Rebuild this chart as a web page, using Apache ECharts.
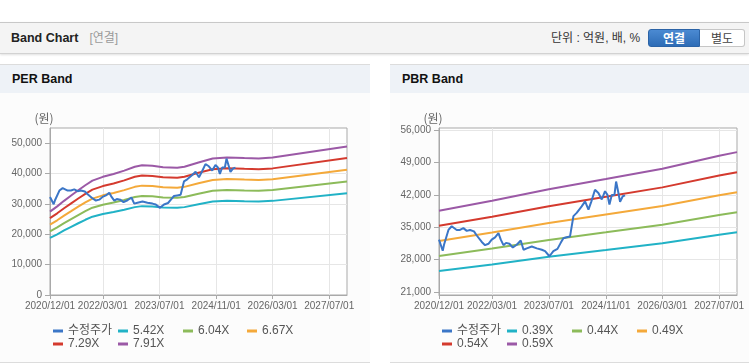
<!DOCTYPE html>
<html><head><meta charset="utf-8">
<script src="https://cdn.jsdelivr.net/npm/echarts@6/dist/echarts.min.js"></script>
<style>
html,body{margin:0;padding:0;width:749px;height:364px;overflow:hidden;background:#fff;font-family:'Liberation Sans','Noto Sans CJK KR',sans-serif;}
.abs{position:absolute;}
#hdr{left:0;top:22px;width:749px;height:30px;background:#f4f4f4;border-top:1px solid #c8c8c8;border-bottom:1px solid #d2d2d2;box-shadow:0 1px 2px rgba(0,0,0,0.12);}
.panel{top:64px;height:297px;background:#fcfcfc;border-top:1px solid #dcdcdc;border-bottom:1px solid #dcdcdc;}
.ptitle{top:65px;height:28px;line-height:28px;background:#eef2f7;font-weight:bold;font-size:12.5px;color:#111;box-sizing:border-box;padding-left:12px;}
.btn{top:29px;height:18px;line-height:18px;font-size:12px;text-align:center;box-sizing:border-box;}
#chart{left:0;top:0;width:749px;height:364px;}
</style></head>
<body>
<div class="abs" id="hdr"></div>
<div class="abs" style="left:11px;top:23px;height:30px;line-height:30px;font-weight:bold;font-size:12.5px;color:#222;">Band Chart<span style="font-weight:normal;color:#9a9a9a;font-size:12px;margin-left:11px;">[연결]</span></div>
<div class="abs" style="left:551px;top:23px;height:30px;line-height:30px;font-size:12px;color:#333;">단위 : 억원, 배, %</div>
<div class="abs btn" style="left:648px;width:52px;background:linear-gradient(#4b8ad2,#2d6cb6);border:1px solid #2b63a6;border-radius:3px 0 0 3px;color:#fff;font-weight:bold;">연결</div>
<div class="abs btn" style="left:700px;width:45px;background:#fff;border:1px solid #c6c6c6;border-left:none;border-radius:0 3px 3px 0;color:#444;">별도</div>

<div class="abs panel" style="left:0;width:370px;"></div>
<div class="abs ptitle" style="left:0;width:370px;">PER Band</div>
<div class="abs panel" style="left:390px;width:359px;"></div>
<div class="abs ptitle" style="left:390px;width:359px;">PBR Band</div>

<div class="abs" id="chart"></div>
<script>
// ---------- data ----------
const priceName = '수정주가';
const perNames = ['5.42X', '6.04X', '6.67X', '7.29X', '7.91X'];
const pbrNames = ['0.39X', '0.44X', '0.49X', '0.54X', '0.59X'];

const xTickDates = ['2020-12-01', '2022-03-01', '2023-07-01', '2024-11-01', '2026-03-01', '2027-07-01'];
const xMin = '2020-12-01';
const xMax = '2027-12-01';
const perYTicks = [0, 10000, 20000, 30000, 40000, 50000];
const pbrYTicks = [21000, 28000, 35000, 42000, 49000, 56000];

const perDates = ['2020-12-01','2021-02-01','2021-04-01','2021-06-01','2021-08-01','2021-10-01','2021-12-01',
  '2022-03-01','2022-06-01','2022-09-01','2022-12-01','2023-02-01','2023-05-01','2023-08-01','2023-12-01',
  '2024-02-01','2024-06-01','2024-10-01','2025-02-01','2025-07-01','2025-11-01','2026-03-01','2027-12-01'];
const per542 = [18810,20000,21250,22440,23630,24770,25800,26670,27320,28080,28940,29270,29160,28830,28730,28940,29920,30790,31060,30890,30790,31000,33520];
const per604 = [20960,22290,23680,25010,26330,27600,28750,29720,30440,31290,32250,32620,32500,32130,32010,32250,33340,34310,34610,34430,34310,34550,37360];
const per667 = [23150,24610,26150,27610,29080,30480,31750,32820,33620,34550,35620,36020,35890,35480,35350,35620,36820,37890,38220,38020,37890,38150,41250];
const per729 = [25300,26900,28580,30180,31780,33320,34700,35870,36740,37760,38930,39370,39220,38780,38640,38930,40240,41410,41770,41550,41410,41700,45090];
const per791 = [27450,29190,31010,32750,34490,36150,37650,38920,39870,40970,42240,42710,42560,42080,41920,42240,43660,44930,45320,45090,44930,45250,48920];

const pbrDates = ['2020-12-01','2022-03-01','2023-07-01','2024-11-01','2026-03-01','2027-07-01','2027-12-01'];
const pbr039 = [25490,26920,28570,30030,31510,33380,33890];
const pbr044 = [28750,30370,32230,33880,35550,37660,38240];
const pbr049 = [32020,33830,35890,37730,39590,41930,42580];
const pbr054 = [35290,37280,39560,41580,43630,46210,46930];
const pbr059 = [38560,40730,43220,45430,47670,50490,51270];

const priceDates = ['2020-12-01','2021-01-02','2021-01-13','2021-02-20','2021-03-20','2021-04-04','2021-05-02','2021-05-30',
  '2021-06-28','2021-07-27','2021-08-24','2021-09-27','2021-10-21','2021-12-03','2021-12-31','2022-01-29','2022-02-26',
  '2022-03-27','2022-04-25','2022-05-15','2022-06-07','2022-06-29','2022-07-28','2022-08-26','2022-09-29','2022-11-02',
  '2022-11-26','2022-12-24','2023-02-05','2023-03-20','2023-05-02','2023-05-30','2023-07-06','2023-08-09','2023-09-13',
  '2023-10-11','2023-11-03','2023-12-01','2023-12-30','2024-01-28','2024-02-25','2024-04-08','2024-05-07','2024-06-05',
  '2024-06-30','2024-07-31','2024-08-29','2024-09-27','2024-10-25','2024-11-15','2024-12-02','2024-12-22','2025-01-14',
  '2025-01-28','2025-02-17','2025-03-03','2025-03-26','2025-04-15'];
const priceValues = [32300,29900,31200,34400,35200,35500,34400,34400,
  34800,34200,34400,34100,33200,31800,31100,31400,32300,
  32800,33700,32300,31100,31600,31400,30600,31200,32100,
  30100,30400,30800,30400,30100,29800,28700,29800,30300,
  31600,32600,32800,33000,37400,38100,39500,40600,38800,
  40600,43100,42400,41000,42800,42000,39900,42000,42000,
  44900,42400,40500,41700,41900];

// ---------- styles ----------
const priceColor = '#3b76c7';
const bandColors = ['#21b2c6', '#8cbb5a', '#f4a93a', '#d43a2e', '#9b59a6'];

function hasFont(f) {
  const c = document.createElement('canvas').getContext('2d');
  c.font = '20px monospace';
  const a = c.measureText('2020/12/01 abc').width;
  c.font = "20px '" + f + "', monospace";
  return Math.abs(c.measureText('2020/12/01 abc').width - a) > 0.5;
}
const narrow = hasFont('Liberation Sans Narrow');
const axisFontFamily = narrow ? "'Liberation Sans Narrow'" : "'Liberation Sans'";
const axisFontSize = narrow ? 11 : 10;

function ts(s) { const p = s.split('-'); return new Date(+p[0], +p[1] - 1, +p[2]).getTime(); }
function pairs(d, v) { return d.map((x, i) => [ts(x), v[i]]); }
function pad(n) { return (n < 10 ? '0' : '') + n; }
function fmtDate(v) { const d = new Date(v); return d.getFullYear() + '/' + pad(d.getMonth() + 1) + '/' + pad(d.getDate()); }
function fmtNum(v) { return String(v).replace(/\B(?=(\d{3})+(?!\d))/g, ','); }

const gridLine = '#e6e6e6';
const axisColor = '#a9a9a9';
const labelColor = '#666';

function xAxis(gi) {
  const tv = xTickDates.map(ts);
  return {
    type: 'value', gridIndex: gi, min: ts(xMin), max: ts(xMax),
    axisLine: { show: true, onZero: false, lineStyle: { color: axisColor } },
    axisTick: { show: true, length: 4, lineStyle: { color: axisColor }, customValues: tv },
    axisLabel: { customValues: tv, formatter: fmtDate, color: labelColor, fontSize: axisFontSize, fontFamily: axisFontFamily, margin: 6 },
    splitLine: { show: true, lineStyle: { color: gridLine } }
  };
}
function yAxis(gi, min, max, ticks, padR) {
  return {
    type: 'value', gridIndex: gi, min: min, max: max,
    name: '(원)', nameLocation: 'end', nameGap: 4,
    nameTextStyle: { color: '#666', fontSize: 12, fontFamily: "'Noto Sans CJK KR'", align: 'center', padding: [0, padR, 0, 0] },
    axisLine: { show: true, onZero: false, lineStyle: { color: axisColor } },
    axisTick: { show: true, length: 5, lineStyle: { color: axisColor }, customValues: ticks },
    axisLabel: { customValues: ticks, formatter: fmtNum, color: labelColor, fontSize: axisFontSize, fontFamily: axisFontFamily, margin: 8 },
    splitLine: { show: true, lineStyle: { color: gridLine } }
  };
}
function lineSeries(name, gi, data, color, z) {
  return {
    type: 'line', name: name, xAxisIndex: gi, yAxisIndex: gi, data: data,
    showSymbol: false, symbol: 'none', z: z || 2, silent: true,
    lineStyle: { width: 2, color: color }, itemStyle: { color: color }
  };
}
function legend(name, left, top) {
  return {
    data: [name], left: left, top: top, icon: 'rect', itemWidth: 10, itemHeight: 3, itemGap: 0, padding: 0,
    selectedMode: false,
    textStyle: { fontSize: 12, color: '#555', fontFamily: "'Liberation Sans','Noto Sans CJK KR'" }
  };
}

const perBands = [per542, per604, per667, per729, per791];
const pbrBands = [pbr039, pbr044, pbr049, pbr054, pbr059];
const series = [];
perBands.forEach((b, i) => series.push(lineSeries(perNames[i], 0, pairs(perDates, b), bandColors[i])));
series.push(lineSeries(priceName, 0, pairs(priceDates, priceValues), priceColor, 5));
pbrBands.forEach((b, i) => series.push(lineSeries(pbrNames[i], 1, pairs(pbrDates, b), bandColors[i])));
series.push(lineSeries(priceName, 1, pairs(priceDates, priceValues), priceColor, 5));

const r1 = 325, r2 = 338;
const legends = [
  legend(priceName, 53, r1), legend(perNames[0], 118, r1), legend(perNames[1], 183, r1), legend(perNames[2], 247, r1),
  legend(perNames[3], 53, r2), legend(perNames[4], 118, r2),
  legend(priceName, 442, r1),
  legend(pbrNames[0], 507, r1), legend(pbrNames[1], 572, r1), legend(pbrNames[2], 637, r1),
  legend(pbrNames[3], 442, r2), legend(pbrNames[4], 507, r2)
];

const chart = echarts.init(document.getElementById('chart'), null, { renderer: 'canvas' });
chart.setOption({
  animation: false,
  grid: [
    { left: 50, top: 128, width: 297, height: 167, show: true, borderColor: axisColor, borderWidth: 1, backgroundColor: '#fff' },
    { left: 439, top: 128, width: 298, height: 167, show: true, borderColor: axisColor, borderWidth: 1, backgroundColor: '#fff' }
  ],
  xAxis: [xAxis(0), xAxis(1)],
  yAxis: [yAxis(0, 0, 55000, perYTicks, 12), yAxis(1, 20300, 56500, pbrYTicks, 12)],
  legend: legends,
  series: series
});
</script>
</body></html>
